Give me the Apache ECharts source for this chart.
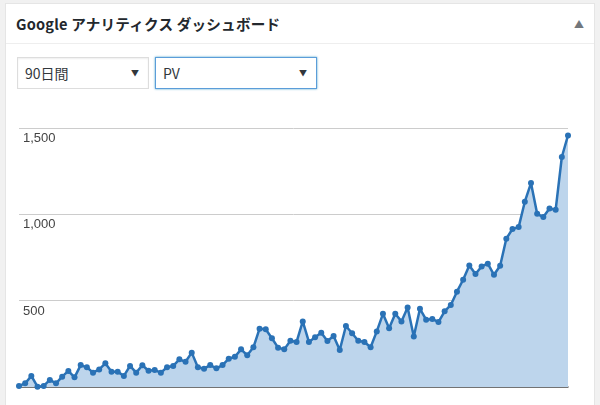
<!DOCTYPE html>
<html>
<head>
<meta charset="utf-8">
<script src="https://cdn.jsdelivr.net/npm/echarts@6/dist/echarts.min.js"></script>
<style>
    html, body { margin: 0; padding: 0; }
    body {
        width: 600px; height: 405px; overflow: hidden; position: relative;
        background: #f1f1f1;
        font-family: "Noto Sans CJK JP", "Open Sans", sans-serif;
        color: #23282d;
    }
    .panel {
        position: absolute; left: 5px; top: 3px; width: 590px; height: 420px;
        background: #fff; border: 1px solid #e5e5e5; box-sizing: border-box;
    }
    .head {
        height: 39px; border-bottom: 1px solid #eee; position: relative;
    }
    .head h2 {
        margin: 0; padding-left: 10px; font-size: 14.6px; font-weight: 700;
        line-height: 39px; color: #23282d; letter-spacing: 0.2px;
    }
    .head .toggle {
        position: absolute; right: 10px; top: 0; line-height: 39px;
        font-size: 10px; color: #72777c;
    }
    .sel {
        position: absolute; top: 53px; height: 32px; box-sizing: border-box;
        border: 1px solid #ddd; background: #fff; font-size: 14px;
        line-height: 30px; padding-left: 7px; color: #32373c;
        box-shadow: inset 0 1px 2px rgba(0,0,0,0.07);
    }
    .sel .arr { position: absolute; right: 9px; top: 0; font-size: 8px; color: #32373c; }
    .sel.focus { border-color: #5b9dd9; box-shadow: 0 0 2px rgba(30,140,190,0.8); }
    #chart { position: absolute; left: 0; top: 0; width: 600px; height: 405px; }
</style>
</head>
<body>
<div class="panel">
    <div class="head">
        <h2>Google アナリティクス ダッシュボード</h2>
        <span class="toggle">▲</span>
    </div>
    <div class="sel" style="left: 11px; width: 132px;">90日間<span class="arr">▼</span></div>
    <div class="sel focus" style="left: 149px; width: 162px;">PV<span class="arr">▼</span></div>
</div>
<div id="chart"></div>
<script>
    // === データ(過去90日間のPV)
    const pageViews = [
        6, 21, 64, 2, 6, 41, 21, 60, 93, 56,
        127, 114, 83, 102, 137, 89, 89, 64, 122, 83,
        126, 94, 98, 83, 114, 122, 160, 146, 199, 114,
        106, 127, 108, 127, 164, 175, 218, 184, 230, 338,
        334, 282, 228, 218, 268, 261, 380, 261, 288, 314,
        266, 295, 214, 353, 311, 268, 261, 230, 322, 424,
        340, 424, 380, 461, 293, 453, 390, 394, 376, 438,
        475, 552, 621, 704, 654, 698, 714, 650, 702, 859,
        915, 926, 1073, 1181, 1003, 984, 1034, 1027, 1332, 1457
    ];
    const days = pageViews.map((_, i) => (i + 1) + '日目');
    const yTicks = [0, 500, 1000, 1500];

    function withComma(v) {
        return String(v).replace(/\B(?=(\d{3})+(?!\d))/g, ',');
    }

    const chart = echarts.init(document.getElementById('chart'));
    chart.setOption({
        animation: false,
        grid: { left: 19, right: 32, top: 128, bottom: 18 },
        xAxis: {
            type: 'category',
            data: days,
            boundaryGap: false,
            axisLine: { lineStyle: { color: '#555', width: 1.5 } },
            axisTick: { show: false },
            axisLabel: { show: false }
        },
        yAxis: {
            type: 'value',
            min: yTicks[0],
            max: yTicks[yTicks.length - 1],
            interval: 500,
            axisLine: { show: false },
            axisTick: { show: false },
            splitLine: { lineStyle: { color: '#cccccc', width: 1 } },
            axisLabel: {
                inside: true,
                margin: 4,
                verticalAlign: 'top',
                padding: [4, 0, 0, 0],
                color: '#444',
                fontSize: 13,
                fontFamily: 'Arial, "Liberation Sans", sans-serif',
                formatter: v => v === 0 ? '' : withComma(v)
            }
        },
        series: [{
            name: 'PV',
            type: 'line',
            data: pageViews,
            symbol: 'circle',
            symbolSize: 6,
            showAllSymbol: true,
            lineStyle: { color: '#2a72b6', width: 2.5 },
            itemStyle: { color: '#2a72b6' },
            areaStyle: { color: '#bdd5ec', opacity: 1 }
        }]
    });
</script>
</body>
</html>
